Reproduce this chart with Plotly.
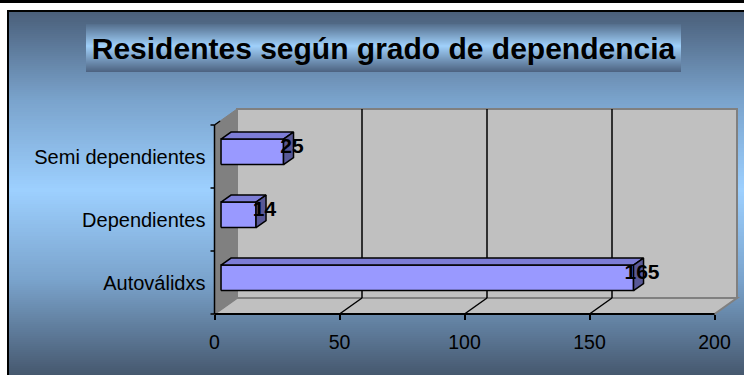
import plotly.graph_objects as go

# ---- data ----
categories = ["Autoválidxs", "Dependientes", "Semi dependientes"]
values = [165, 14, 25]
x_ticks = [0, 50, 100, 150, 200]
title_text = "Residentes según grado de dependencia"

# ---- geometry (pixel mapping helpers) ----
W, H = 744, 375
PX = 2.5            # pixels per value unit
X0PX = 214.5        # pixel of value 0 on front plane
CAT_PX = 63.0       # pixels per category
Y0PX = 282.5        # pixel of first category centre on front plane
xr = [-X0PX / PX, (W - X0PX) / PX]
yr = [(Y0PX - H) / CAT_PX, Y0PX / CAT_PX]

DX = 22.5 / PX      # depth offset of walls (x units)
DY = 16.0 / CAT_PX  # depth offset of walls (y units)
F = 0.29            # bar front plane depth fraction
BDX = 10.0 / PX     # bar depth (x)
BDY = 7.0 / CAT_PX  # bar depth (y)
HALF = 12.75 / CAT_PX
XMAX = x_ticks[-1]
YLO, YHI = -0.5, len(categories) - 0.5

FONT = "Liberation Sans, Arial, sans-serif"


def lerp_stops(stops, y):
    for (y1, c1), (y2, c2) in zip(stops, stops[1:]):
        if y1 <= y <= y2:
            t = (y - y1) / (y2 - y1)
            return "rgb(%d,%d,%d)" % tuple(round(a + (b - a) * t) for a, b in zip(c1, c2))
    return "rgb(%d,%d,%d)" % (stops[-1][1] if y > stops[-1][0] else stops[0][1])


shapes = []


def prect(x0, y0, x1, y1, color):
    shapes.append(dict(type="rect", xref="paper", yref="paper", layer="below",
                       x0=x0 / W, x1=x1 / W, y0=1 - y0 / H, y1=1 - y1 / H,
                       fillcolor=color, line=dict(width=0)))


# background gradient of chart area
bg_stops = [(12, (74, 95, 122)), (100, (122, 163, 204)), (190, (157, 208, 255)),
            (280, (122, 163, 204)), (375, (70, 88, 110))]
y = 12
while y < H:
    prect(9, y, W, min(y + 2, H), lerp_stops(bg_stops, y + 1))
    y += 2
# borders
prect(0, 0, W, 3, "black")
prect(7, 10, W, 12, "black")
prect(7, 10, 9, H, "black")

# title box gradient
tb_stops = [(24, (84, 110, 140)), (46, (160, 208, 250)), (72, (76, 98, 128))]
for yy in range(24, 72):
    prect(86, yy, 681, yy + 1, lerp_stops(tb_stops, yy + 0.5))


def dpath(pts, fill, lc="rgba(0,0,0,0)", lw=0):
    p = "M " + " L ".join("%f,%f" % pt for pt in pts) + " Z"
    shapes.append(dict(type="path", xref="x", yref="y", layer="below", path=p,
                       fillcolor=fill, line=dict(color=lc, width=lw)))


def dline(x0, y0, x1, y1, color="black", width=1.5):
    shapes.append(dict(type="line", xref="x", yref="y", layer="below",
                       x0=x0, y0=y0, x1=x1, y1=y1, line=dict(color=color, width=width)))


# back wall, floor, left wall
dpath([(DX, YLO + DY), (XMAX + DX, YLO + DY), (XMAX + DX, YHI + DY), (DX, YHI + DY)],
      "#c0c0c0", "#808080", 2)
dpath([(0, YLO), (XMAX, YLO), (XMAX + DX, YLO + DY), (DX, YLO + DY)],
      "#c0c0c0", "#808080", 2)
dpath([(0, YLO), (DX, YLO + DY), (DX, YHI + DY), (0, YHI)], "#808080", "#808080", 1)
# gridlines on wall and floor
for v in x_ticks[1:-1]:
    dline(v + DX, YLO + DY, v + DX, YHI + DY)
    dline(v, YLO, v + DX, YLO + DY)
# axis lines
dline(0, YLO, XMAX, YLO, width=2)
dline(0, YLO, 0, YHI, width=1.5)
dline(0, YHI, DX * 0.25, YHI + DY * 0.25, width=1.5)
for k in range(len(categories) + 1):
    dline(-1.6, YLO + k, 0, YLO + k, width=1.5)

fig = go.Figure()

# bars (3D boxes)
for i, v in enumerate(values):
    x0 = F * DX
    x1 = x0 + v
    yc = i + F * DY
    yb, yt = yc - HALF, yc + HALF
    fig.add_trace(go.Scatter(x=[x0, x1, x1, x0, x0], y=[yb, yb, yt, yt, yb], mode="lines",
                             fill="toself", fillcolor="#9999ff",
                             line=dict(color="black", width=1.5), hoverinfo="skip"))
    fig.add_trace(go.Scatter(x=[x0, x1, x1 + BDX, x0 + BDX, x0], y=[yt, yt, yt + BDY, yt + BDY, yt],
                             mode="lines", fill="toself", fillcolor="#7d7dd6",
                             line=dict(color="black", width=1.5), hoverinfo="skip"))
    fig.add_trace(go.Scatter(x=[x1, x1 + BDX, x1 + BDX, x1, x1], y=[yb, yb + BDY, yt + BDY, yt, yb],
                             mode="lines", fill="toself", fillcolor="#585896",
                             line=dict(color="black", width=1.5), hoverinfo="skip"))

# data labels
fig.add_trace(go.Scatter(
    x=[F * DX + v + 3.4 for v in values],
    y=[i + F * DY + 0.065 for i in range(len(values))],
    mode="text", text=[str(v) for v in values], textposition="middle center",
    textfont=dict(family=FONT, size=21, color="black", weight="bold"),
    hoverinfo="skip"))

fig.update_layout(
    width=W, height=H, autosize=False,
    margin=dict(l=0, r=0, t=0, b=0, pad=0),
    paper_bgcolor="white", plot_bgcolor="rgba(0,0,0,0)",
    showlegend=False,
    shapes=shapes,
    title=dict(text=title_text, x=383.5 / W, xanchor="center", y=1 - 48 / H, yanchor="middle",
               font=dict(family=FONT, size=30, color="black", weight="bold")),
    xaxis=dict(domain=[0, 1], range=xr, anchor="free", position=1 - 313.5 / H,
               tickmode="array", tickvals=x_ticks, ticktext=[str(t) for t in x_ticks],
               ticks="outside", ticklen=5, tickwidth=1.5, tickcolor="black",
               showgrid=False, zeroline=False, showline=False,
               tickfont=dict(family=FONT, size=19.5, color="black"), ticklabelstandoff=6),
    yaxis=dict(domain=[0, 1], range=yr, anchor="free", position=X0PX / W,
               tickmode="array", tickvals=list(range(len(categories))), ticktext=categories,
               ticks="", showgrid=False, zeroline=False, showline=False,
               tickfont=dict(family=FONT, size=20, color="black"), ticklabelstandoff=9),
)

fig.write_html("out.html")
